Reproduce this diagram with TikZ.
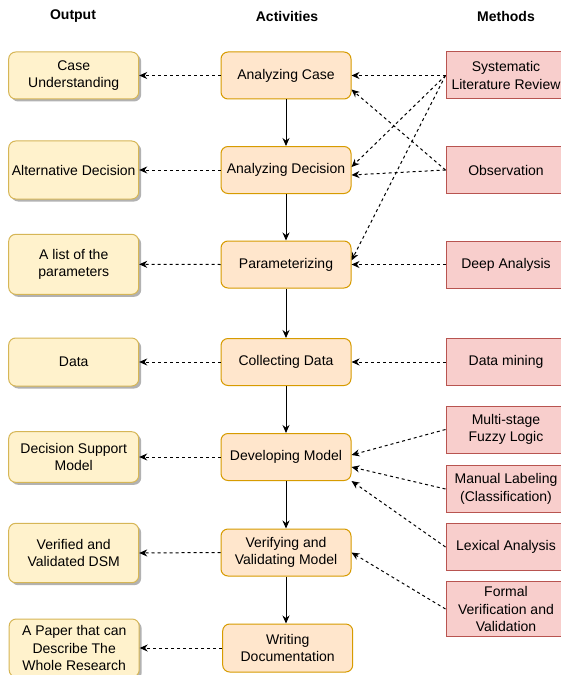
\documentclass[tikz,border=0pt]{standalone}
\usepackage{fontspec}
\setmainfont{Liberation Sans}
\usetikzlibrary{arrows.meta,shadows}
\definecolor{outfill}{HTML}{FFF2CC}
\definecolor{outdraw}{HTML}{D6B656}
\definecolor{actfill}{HTML}{FFE6CC}
\definecolor{actdraw}{HTML}{D79B00}
\definecolor{metfill}{HTML}{F8CECC}
\definecolor{metdraw}{HTML}{B85450}
\begin{document}
\begin{tikzpicture}[x=1bp,y=-1bp,
 box/.style={draw, line width=1bp, inner sep=0pt, align=center, font=\fontsize{14bp}{17.3bp}\selectfont, minimum width=130bp, minimum height=47bp},
 outbox/.style={box, fill=outfill, draw=outdraw, rounded corners=7bp, drop shadow={shadow xshift=2.5bp, shadow yshift=-2.5bp, opacity=0.3, fill=black}},
 actbox/.style={box, fill=actfill, draw=actdraw, rounded corners=7bp},
 metbox/.style={box, fill=metfill, draw=metdraw, minimum width=120bp},
 header/.style={font=\fontsize{14bp}{17bp}\selectfont\bfseries},
 flow/.style={-{Stealth[length=8bp,width=7bp]}, line width=1bp},
 dflow/.style={flow, dash pattern=on 3bp off 3bp}]
\useasboundingbox (0,0) rectangle (561,675);
\clip (0,0) rectangle (561,675);
\fill[white] (0,0) rectangle (561,675);
% headers
\node[header] (hout) at (73,16) {Output};
\node[header] (hact) at (287,16) {Activities};
\node[header] (hmet) at (506,16) {Methods};
% outputs
\node[outbox] (o1) at (73.7,75.5) {Case\\Understanding};
\node[outbox, minimum height=58bp] (o2) at (73.7,170) {Alternative Decision};
\node[outbox, minimum height=60bp] (o3) at (73.7,264.3) {A list of the\\parameters};
\node[outbox, minimum height=48bp] (o4) at (73.7,362) {Data};
\node[outbox, minimum height=50.6bp] (o5) at (73.7,457) {Decision Support\\Model};
\node[outbox, minimum height=59.4bp] (o6) at (73.7,553) {Verified and\\Validated DSM};
\node[outbox, minimum height=58bp] (o7) at (74.2,648) {A Paper that can\\Describe The\\Whole Research};
% activities
\node[actbox] (a1) at (286,75.5) {Analyzing Case};
\node[actbox] (a2) at (286,170) {Analyzing Decision};
\node[actbox] (a3) at (286,264.5) {Parameterizing};
\node[actbox] (a4) at (286,362) {Collecting Data};
\node[actbox] (a5) at (286,457) {Developing Model};
\node[actbox] (a6) at (286,552.5) {Verifying and\\Validating Model};
\node[actbox, minimum height=48bp] (a7) at (287.7,648) {Writing\\Documentation};
% methods
\node[metbox] (m1) at (506,75.5) {Systematic\\Literature Review};
\node[metbox] (m2) at (506,170) {Observation};
\node[metbox] (m3) at (506,264.5) {Deep Analysis};
\node[metbox] (m4) at (506,362) {Data mining};
\node[metbox] (m5) at (506,429.5) {Multi-stage\\Fuzzy Logic};
\node[metbox] (m6) at (506,489) {Manual Labeling\\(Classification)};
\node[metbox] (m7) at (506,547) {Lexical Analysis};
\node[metbox, minimum height=55bp] (m8) at (506,609) {Formal\\Verification and\\Validation};
% main flow
\draw[flow] (a1) -- (a2);
\draw[flow] (a2) -- (a3);
\draw[flow] (a3) -- (a4);
\draw[flow] (a4) -- (a5);
\draw[flow] (a5) -- (a6);
\draw[flow] (a6.south) -- (a6.south |- a7.north);
% outputs
\draw[dflow] (a1.west) -- (o1.east);
\draw[dflow] (a2.west) -- (o2.east);
\draw[dflow] (a3.west) -- (o3.east);
\draw[dflow] (a4.west) -- (o4.east);
\draw[dflow] (a5.west) -- (o5.east);
\draw[dflow] (a6.west) -- (o6.east);
\draw[dflow] (a7.west) -- (o7.east);
% methods
\draw[dflow] (m1.west) -- (a1.east);
\draw[dflow] (m1.west) -- ([yshift=3bp]a2.east);
\draw[dflow] (m1.west) -- ([yshift=4bp]a3.east);
\draw[dflow] (m2.west) -- ([yshift=-14bp]a1.east);
\draw[dflow] (m2.west) -- ([yshift=-5bp]a2.east);
\draw[dflow] (m3.west) -- (a3.east);
\draw[dflow] (m4.west) -- (a4.east);
\draw[dflow] (m5.west) -- ([yshift=2bp]a5.east);
\draw[dflow] (m6.west) -- ([yshift=-10bp]a5.east);
\draw[dflow] (m7.west) -- (a5.south east);
\draw[dflow] (m8.west) -- (a6.east);
\end{tikzpicture}
\end{document}
